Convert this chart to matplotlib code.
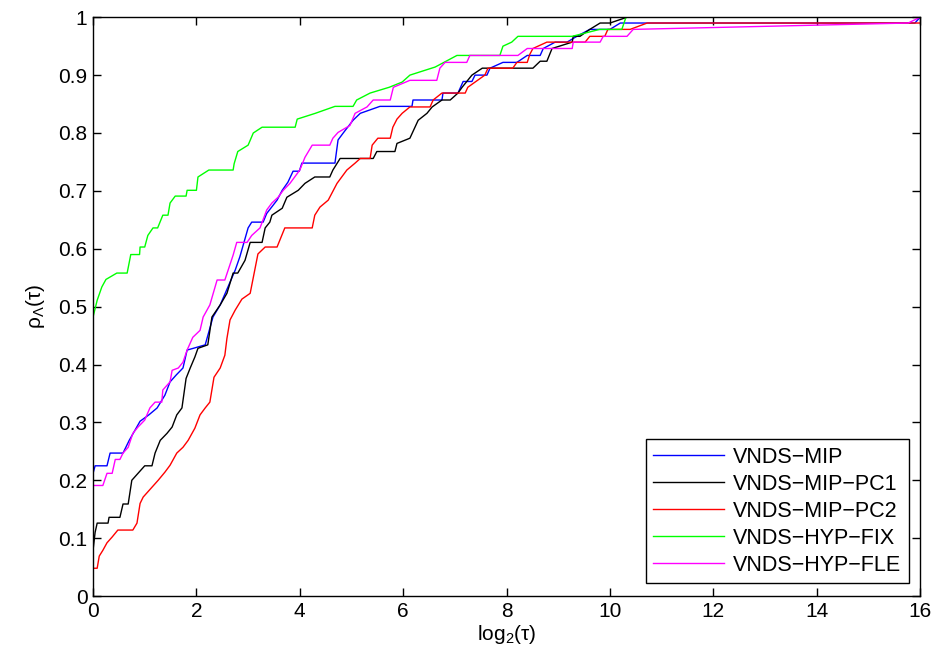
import matplotlib
matplotlib.use("Agg")
import matplotlib.pyplot as plt

# performance profile data
mip_x = [0, 0.04, 0.27, 0.33, 0.58, 0.70, 0.91, 1.08, 1.24, 1.39, 1.49, 1.61, 1.74, 1.82, 1.94, 2.17, 2.32,
         2.46, 2.61, 2.75, 2.84, 3.0, 3.07, 3.29, 3.36, 3.56, 3.66, 3.77, 3.87, 3.99, 4.04, 4.68, 4.74,
         4.84, 5.03, 5.17, 5.55, 6.17, 6.19, 6.75, 6.77, 7.06, 7.16, 7.33, 7.39, 7.62, 7.68, 7.93, 8.2,
         8.4, 8.65, 8.71, 8.94, 9.17, 9.36, 9.61, 10.0, 10.2, 15.9, 16]
mip_y = [0.212, 0.225, 0.225, 0.247, 0.247, 0.269, 0.302, 0.313, 0.325, 0.347, 0.37, 0.382, 0.394, 0.425,
         0.428, 0.434, 0.482, 0.503, 0.534, 0.563, 0.586, 0.636, 0.646, 0.646, 0.661, 0.684, 0.701, 0.715,
         0.734, 0.734, 0.748, 0.748, 0.788, 0.80, 0.822, 0.834, 0.846, 0.846, 0.857, 0.857, 0.869, 0.869,
         0.889, 0.889, 0.90, 0.90, 0.912, 0.922, 0.922, 0.934, 0.934, 0.946, 0.957, 0.957, 0.967, 0.979,
         0.979, 0.99, 0.99, 1.0]

pc1_x = [0, 0.04, 0.08, 0.29, 0.31, 0.52, 0.58, 0.68, 0.75, 0.87, 1.0, 1.14, 1.2, 1.3, 1.43, 1.53, 1.62,
         1.72, 1.8, 1.88, 1.97, 2.03, 2.22, 2.3, 2.46, 2.59, 2.71, 2.8, 2.94, 3.04, 3.27, 3.33, 3.42, 3.46,
         3.66, 3.75, 3.97, 4.1, 4.29, 4.58, 4.64, 4.78, 5.42, 5.49, 5.84, 5.88, 6.13, 6.29, 6.46, 6.56,
         6.75, 6.91, 7.06, 7.14, 7.33, 7.53, 8.51, 8.65, 8.78, 8.88, 9.27, 9.29, 9.42, 9.61, 9.81, 10.0,
         10.33, 16]
pc1_y = [0.079, 0.11, 0.126, 0.126, 0.136, 0.136, 0.159, 0.159, 0.2, 0.212, 0.225, 0.225, 0.247, 0.269,
         0.281, 0.292, 0.313, 0.325, 0.376, 0.394, 0.413, 0.428, 0.434, 0.482, 0.503, 0.523, 0.558, 0.558,
         0.58, 0.611, 0.611, 0.636, 0.646, 0.658, 0.67, 0.689, 0.701, 0.713, 0.724, 0.724, 0.736, 0.756,
         0.756, 0.768, 0.768, 0.782, 0.791, 0.822, 0.834, 0.845, 0.857, 0.857, 0.869, 0.879, 0.90, 0.912,
         0.912, 0.924, 0.924, 0.946, 0.957, 0.967, 0.967, 0.979, 0.99, 0.99, 1.0, 1.0]

pc2_x = [0, 0.08, 0.12, 0.19, 0.27, 0.37, 0.48, 0.77, 0.85, 0.91, 0.97, 1.06, 1.16, 1.26, 1.39, 1.49,
         1.62, 1.74, 1.84, 1.97, 2.07, 2.17, 2.26, 2.34, 2.46, 2.55, 2.59, 2.65, 2.75, 2.88, 3.04, 3.19,
         3.33, 3.56, 3.71, 4.24, 4.29, 4.39, 4.55, 4.72, 4.91, 5.07, 5.17, 5.36, 5.4, 5.51, 5.75, 5.8,
         5.88, 5.98, 6.13, 6.52, 6.58, 6.75, 7.2, 7.25, 7.58, 7.64, 8.12, 8.2, 8.4, 8.45, 8.51, 8.78,
         9.52, 9.61, 9.9, 9.96, 10.39, 10.72, 16]
pc2_y = [0.048, 0.048, 0.069, 0.079, 0.092, 0.102, 0.114, 0.114, 0.126, 0.16, 0.171, 0.18, 0.19, 0.2,
         0.214, 0.226, 0.247, 0.257, 0.269, 0.29, 0.313, 0.325, 0.335, 0.378, 0.394, 0.416, 0.445, 0.477,
         0.494, 0.513, 0.523, 0.591, 0.603, 0.603, 0.636, 0.636, 0.658, 0.672, 0.684, 0.713, 0.736, 0.748,
         0.756, 0.756, 0.779, 0.791, 0.791, 0.81, 0.824, 0.834, 0.845, 0.845, 0.857, 0.869, 0.869, 0.879,
         0.90, 0.912, 0.912, 0.922, 0.922, 0.936, 0.946, 0.957, 0.957, 0.967, 0.967, 0.979, 0.979, 0.99,
         0.99]

fix_x = [0, 0.08, 0.17, 0.25, 0.46, 0.66, 0.73, 0.90, 0.91, 1.0, 1.06, 1.16, 1.25, 1.35, 1.45, 1.49, 1.59,
         1.80, 1.82, 2.0, 2.03, 2.24, 2.71, 2.73, 2.80, 3.0, 3.1, 3.27, 3.91, 3.95, 4.3, 4.68, 5.03, 5.1,
         5.36, 5.73, 5.98, 6.13, 6.62, 7.04, 7.87, 7.93, 8.1, 8.22, 9.27, 9.8, 10.23, 10.31, 16]
fix_y = [0.482, 0.511, 0.534, 0.547, 0.558, 0.558, 0.59, 0.59, 0.603, 0.603, 0.623, 0.636, 0.636, 0.658,
         0.658, 0.679, 0.691, 0.691, 0.701, 0.701, 0.724, 0.736, 0.736, 0.747, 0.768, 0.779, 0.80, 0.81,
         0.81, 0.824, 0.834, 0.846, 0.846, 0.857, 0.869, 0.879, 0.888, 0.90, 0.914, 0.934, 0.934, 0.95,
         0.957, 0.967, 0.967, 0.979, 0.979, 1.0, 1.0]

fle_x = [0, 0.19, 0.27, 0.37, 0.43, 0.52, 0.58, 0.68, 0.77, 0.87, 1.0, 1.1, 1.2, 1.33, 1.35, 1.49, 1.53,
         1.65, 1.74, 1.82, 1.93, 2.07, 2.13, 2.26, 2.4, 2.55, 2.71, 2.78, 2.98, 3.07, 3.23, 3.36, 3.46,
         3.58, 3.68, 3.81, 4.0, 4.1, 4.24, 4.58, 4.64, 4.74, 4.97, 5.07, 5.3, 5.42, 5.75, 5.81, 6.13,
         6.65, 6.71, 6.81, 7.23, 7.29, 8.22, 8.4, 9.27, 9.29, 9.81, 9.87, 10.33, 10.45, 15.77, 16]
fle_y = [0.191, 0.191, 0.212, 0.212, 0.236, 0.236, 0.247, 0.257, 0.281, 0.292, 0.304, 0.325, 0.335, 0.335,
         0.356, 0.37, 0.39, 0.394, 0.404, 0.425, 0.447, 0.459, 0.482, 0.503, 0.546, 0.546, 0.589, 0.611,
         0.611, 0.623, 0.636, 0.667, 0.679, 0.689, 0.701, 0.713, 0.736, 0.758, 0.779, 0.779, 0.791, 0.801,
         0.813, 0.834, 0.845, 0.857, 0.857, 0.879, 0.891, 0.891, 0.912, 0.922, 0.922, 0.934, 0.934,
         0.946, 0.946, 0.957, 0.957, 0.967, 0.967, 0.979, 0.99, 1.0]

labels = ["VNDS\u2212MIP", "VNDS\u2212MIP\u2212PC1", "VNDS\u2212MIP\u2212PC2",
          "VNDS\u2212HYP\u2212FIX", "VNDS\u2212HYP\u2212FLE"]
colors = ["#0000ff", "#000000", "#ff0000", "#00ff00", "#ff00ff"]

plt.rcParams['font.family'] = ['Liberation Sans', 'DejaVu Sans']
plt.rcParams['mathtext.fontset'] = 'custom'
plt.rcParams['mathtext.rm'] = 'Liberation Sans'
plt.rcParams['mathtext.it'] = 'Liberation Sans'

fig = plt.figure(figsize=(9.36, 6.63), dpi=100)
ax = fig.add_axes([0.0994, 0.101, 0.8836, 0.873])

series = [(mip_x, mip_y), (pc1_x, pc1_y), (pc2_x, pc2_y), (fix_x, fix_y), (fle_x, fle_y)]
for (xs, ys), lab, col in zip(series, labels, colors):
    ax.plot(xs, ys, color=col, lw=1.0, label=lab)

ax.set_xlim(0, 16)
ax.set_ylim(0, 1)
ax.set_xticks(range(0, 17, 2))
ax.set_yticks([i / 10 for i in range(11)])
ax.set_yticklabels(["0", "0.1", "0.2", "0.3", "0.4", "0.5", "0.6", "0.7", "0.8", "0.9", "1"])
ax.tick_params(direction='in', top=True, right=True, labelsize=15, length=6, width=1, pad=4)
for s in ax.spines.values():
    s.set_linewidth(1.0)

ax.set_xlabel(r'$\mathregular{log_2(\tau)}$', fontsize=15, labelpad=2)
ax.set_ylabel(r'$\mathregular{\rho_\Lambda(\tau)}$', fontsize=15, labelpad=8)

leg = ax.legend(loc='lower right', bbox_to_anchor=(0.986, 0.022), borderaxespad=0,
                fontsize=15.5, fancybox=False, framealpha=1, edgecolor='black',
                handlelength=3.3, handletextpad=0.4, labelspacing=0.28, borderpad=0.35)
leg.get_frame().set_linewidth(1.0)

fig.savefig("out.png", dpi=100)
